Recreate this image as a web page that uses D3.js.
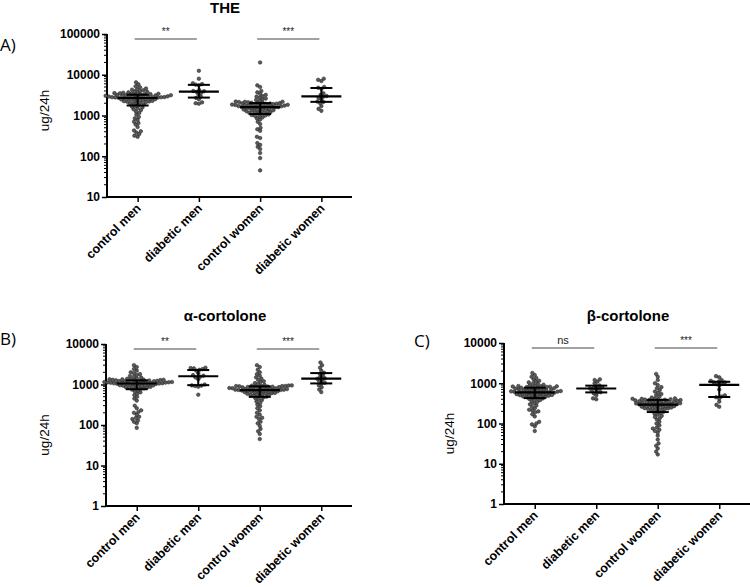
<!DOCTYPE html>
<html><head><meta charset="utf-8">
<script src="https://cdn.jsdelivr.net/npm/d3@7"></script>
<style>body{margin:0;background:#fff}svg{display:block;font-family:"Liberation Sans",Arial,sans-serif}</style>
</head><body><svg id="c" width="750" height="587"></svg>
<script>
const categories = ["control men","diabetic men","control women","diabetic women"];
const panelTitles = ["THE","α-cortolone","β-cortolone"];
const panelLetters = ["A)","B)","C)"];
const yLabel = "ug/24h";
const tickLabelsA = ["10","100","1000","10000","100000"];
const tickLabelsBC = ["1","10","100","1000","10000"];
const sigA = ["**","***"];
const sigB = ["**","***"];
const sigC = ["ns","***"];

// THE
const theCtrlMen = [300,320,350,380,410,430,520,600,650,700,780,850,920,
 1050,1150,1250,1350,1420,1500,1580,1650,1720,1800,1870,1950,
 2000,2050,2100,2130,2180,2220,2250,2290,2330,2380,2420,2450,2490,2520,2560,2600,2630,2660,2690,2720,2740,2760,2780,2800,2810,
 2830,2850,2880,2900,2920,2950,2980,3000,3020,3050,3080,3110,3150,3180,3220,3260,3300,3340,3380,3420,3460,3500,3540,3580,3620,
 3700,3800,3900,4000,4150,4300,4450,4600,4900,5200,5800,6500];
const theDiabMen = [1950,2000,2100,2500,2700,2900,3300,3600,3800,3950,4000,4200,5500,5700,5900,6200,8000,12500];
const theCtrlWomen = [45,90,120,150,170,190,210,280,300,420,460,500,620,700,
 800,850,900,950,980,1000,1030,1060,1100,1130,1160,1190,
 1200,1220,1250,1270,1300,1320,1350,1380,1400,1420,1450,1480,1500,1520,1540,1560,1580,1600,1620,1640,1660,1680,1690,1700,
 1710,1730,1750,1770,1790,1810,1830,1850,1870,1890,1910,1930,1950,1970,1990,2010,2040,2060,2090,2110,2140,2160,2180,2200,
 2300,2400,2500,2600,2750,2900,3000,3200,3400,3700,4000,5000,5500,20000];
const theDiabWomen = [1300,1450,1700,2000,2150,2200,2500,2700,2900,3000,3200,3500,4500,4800,5000,7000,7500,8000];

// alpha-cortolone
const aCtrlMen = [85,110,120,130,140,150,160,180,200,210,230,260,300,
 400,450,500,550,600,640,680,720,750,780,800,820,
 830,845,860,875,890,905,920,935,950,960,975,990,1000,1010,1020,1030,1040,1050,1060,1070,1075,1080,1090,1095,1100,
 1105,1115,1125,1135,1145,1155,1165,1175,1185,1195,1205,1215,1230,1245,1260,1270,1280,1290,1300,1310,1320,1335,1350,1365,1380,
 1420,1480,1550,1620,1700,1800,1900,2000,2200,2400,2700,3000];
const aDiabMen = [560,880,920,940,950,1000,1350,1500,1550,1650,1700,1900,2200,2300,2400,2500,2550,2600];
const aCtrlWomen = [45,60,70,80,95,110,120,140,150,160,180,200,230,260,290,
 320,350,380,410,440,460,480,500,520,535,550,
 560,570,580,590,600,610,620,630,640,650,660,670,680,690,700,705,710,720,730,735,740,745,750,760,
 765,770,775,780,790,800,810,820,830,840,850,860,870,880,890,900,905,910,915,920,930,935,945,950,
 980,1020,1080,1150,1200,1300,1400,1500,1650,1800,2000,2300,2700,3000];
const aDiabWomen = [650,750,850,950,1050,1100,1200,1300,1380,1420,1500,1650,1800,1950,2200,2600,3000,3500];

// beta-cortolone
const bCtrlMen = [65,85,95,100,110,150,170,190,200,210,220,240,
 260,280,300,320,340,360,380,400,410,420,435,445,455,
 460,468,475,482,490,497,505,512,520,528,535,543,550,558,565,573,580,588,595,600,605,612,618,624,630,
 638,646,655,664,673,682,691,700,710,720,730,740,750,760,770,780,790,800,810,820,830,838,845,852,860,
 890,920,960,1000,1050,1100,1150,1250,1350,1450,1600,1800];
const bDiabMen = [400,420,500,560,590,600,650,700,730,750,760,800,850,880,1000,1100,1200,1250];
const bCtrlWomen = [17,20,24,28,32,40,50,60,65,70,75,80,90,100,110,
 125,135,145,155,165,175,185,195,205,212,220,
 223,229,231,238,241,246,250,255,257,262,266,270,273,279,282,285,290,293,298,301,305,309,312,315,
 318,323,326,332,335,341,344,350,353,357,363,366,372,375,381,384,390,393,399,402,408,411,417,420,
 440,470,500,540,580,620,680,750,800,900,1000,1200,1450,1700];
const bDiabWomen = [260,290,350,420,450,470,500,700,880,950,1000,1050,1050,1100,1150,1200,1400,1500];

const panels = [
 {title:panelTitles[0], letter:panelLetters[0], groups:[theCtrlMen,theDiabMen,theCtrlWomen,theDiabWomen], sig:sigA,
  ticks:tickLabelsA, dom:[10,100000], x0:107, x1:352, yTop:34, yBot:197, titleX:225, titleY:13, letterX:0, letterY:51, labX:49},
 {title:panelTitles[1], letter:panelLetters[1], groups:[aCtrlMen,aDiabMen,aCtrlWomen,aDiabWomen], sig:sigB,
  ticks:tickLabelsBC, dom:[1,10000], x0:106, x1:352, yTop:344, yBot:506, titleX:225, titleY:321, letterX:0, letterY:345, labX:49},
 {title:panelTitles[2], letter:panelLetters[2], groups:[bCtrlMen,bDiabMen,bCtrlWomen,bDiabWomen], sig:sigC,
  ticks:tickLabelsBC, dom:[1,10000], x0:504, x1:750, yTop:343, yBot:504, titleX:628, titleY:321, letterX:414, letterY:347, labX:454}
];

const svg = d3.select("#c");

function swarm(ys, D){
  const idx = ys.map((y,i)=>i).sort((a,b)=>ys[b]-ys[a]);
  const placed = [];
  const xs = new Array(ys.length).fill(0);
  for (const i of idx){
    const y = ys[i];
    const near = placed.filter(p=>Math.abs(p.y-y)<D);
    let best = 0;
    for (let k=0;k<400;k++){
      const off = (k%2===0?1:-1)*Math.ceil(k/2)*0.4;
      if (near.every(p=>{const dx=p.x-off, dy=p.y-y; return dx*dx+dy*dy>=D*D;})){best=off;break;}
    }
    xs[i]=best; placed.push({x:best,y:y});
  }
  return xs;
}

panels.forEach(P=>{
  const g = svg.append("g");
  const x = d3.scalePoint().domain(categories).range([P.x0,P.x1]).padding(0.5);
  const y = d3.scaleLog().domain(P.dom).range([P.yBot,P.yTop]);

  const minor = [];
  for (let e=Math.log10(P.dom[0]); e<Math.log10(P.dom[1]); e++)
    for (let m=2;m<=9;m++) minor.push(m*Math.pow(10,e));
  g.selectAll("line.minor").data(minor).join("line")
    .attr("x1",P.x0-3).attr("x2",P.x0).attr("y1",d=>y(d)).attr("y2",d=>y(d))
    .attr("stroke","#000").attr("stroke-width",1);

  const yAxis = d3.axisLeft(y).tickValues(P.ticks.map(Number)).tickFormat((d,i)=>P.ticks[i]).tickSize(5).tickPadding(2);
  const ya = g.append("g").attr("transform",`translate(${P.x0},0)`).call(yAxis);
  ya.select(".domain").attr("stroke-width",2).attr("d",`M-0,${P.yTop}V${P.yBot}`);
  ya.selectAll(".tick line").attr("stroke-width",1.5);
  ya.selectAll("text").attr("font-size",12).attr("font-weight","bold").attr("fill","#000");

  const xAxis = d3.axisBottom(x).tickSize(5).tickFormat("");
  const xa = g.append("g").attr("transform",`translate(0,${P.yBot})`).call(xAxis);
  xa.select(".domain").attr("stroke-width",2).attr("d",`M${P.x0-1},0H${P.x1}`);
  xa.selectAll(".tick line").attr("stroke-width",1.5);
  g.selectAll("text.cat").data(categories).join("text").attr("class","cat")
    .attr("transform",d=>`translate(${x(d)+4},${P.yBot+12}) rotate(-45)`)
    .attr("text-anchor","end").attr("font-size",12.5).attr("font-weight","bold").text(d=>d);

  P.groups.forEach((vals,gi)=>{
    const ys = vals.map(v=>y(v));
    const xs = swarm(ys,3.1);
    g.append("g").selectAll("circle").data(vals).join("circle")
      .attr("cx",(d,i)=>x(categories[gi])+xs[i]).attr("cy",(d,i)=>ys[i]).attr("r",1.8)
      .attr("fill","#5a5a5a").attr("stroke","#1e1e1e").attr("stroke-width",0.5);
  });
  P.groups.forEach((vals,gi)=>{
    const s = vals.slice().sort(d3.ascending);
    const med = d3.quantile(s,0.5), q1=d3.quantile(s,0.25), q3=d3.quantile(s,0.75);
    const cx = x(categories[gi]);
    const eg = g.append("g").attr("stroke","#000");
    eg.append("line").attr("x1",cx-20).attr("x2",cx+20).attr("y1",y(med)).attr("y2",y(med)).attr("stroke-width",2.2);
    eg.append("line").attr("x1",cx-11).attr("x2",cx+11).attr("y1",y(q1)).attr("y2",y(q1)).attr("stroke-width",2);
    eg.append("line").attr("x1",cx-11).attr("x2",cx+11).attr("y1",y(q3)).attr("y2",y(q3)).attr("stroke-width",2);
    eg.append("line").attr("x1",cx).attr("x2",cx).attr("y1",y(q1)).attr("y2",y(q3)).attr("stroke-width",2);
  });

  [[0,1],[2,3]].forEach((pr,k)=>{
    const xa0 = x(categories[pr[0]])-3, xa1 = x(categories[pr[1]])-2;
    const ly = P.yTop+5;
    g.append("line").attr("x1",xa0).attr("x2",xa1).attr("y1",ly).attr("y2",ly).attr("stroke","#444").attr("stroke-width",1);
    g.append("text").attr("x",(xa0+xa1)/2).attr("y",ly-4).attr("text-anchor","middle")
      .attr("font-size",P.sig[k]==="ns"?11:10).attr("fill","#222").text(P.sig[k]);
  });

  svg.append("text").attr("x",P.titleX).attr("y",P.titleY).attr("text-anchor","middle")
    .attr("font-size",15).attr("font-weight","bold").text(P.title);
  svg.append("text").attr("x",P.letterX).attr("y",P.letterY).attr("font-size",17)
    .attr("font-family","'Open Sans',sans-serif").text(P.letter);
  svg.append("text").attr("transform",`translate(${P.labX},${(P.yTop+P.yBot)/2 - (P.dom[0]===10? 5: -10)}) rotate(-90)`)
    .attr("text-anchor","middle").attr("font-size",13.5).text(yLabel);
});
</script></body></html>
